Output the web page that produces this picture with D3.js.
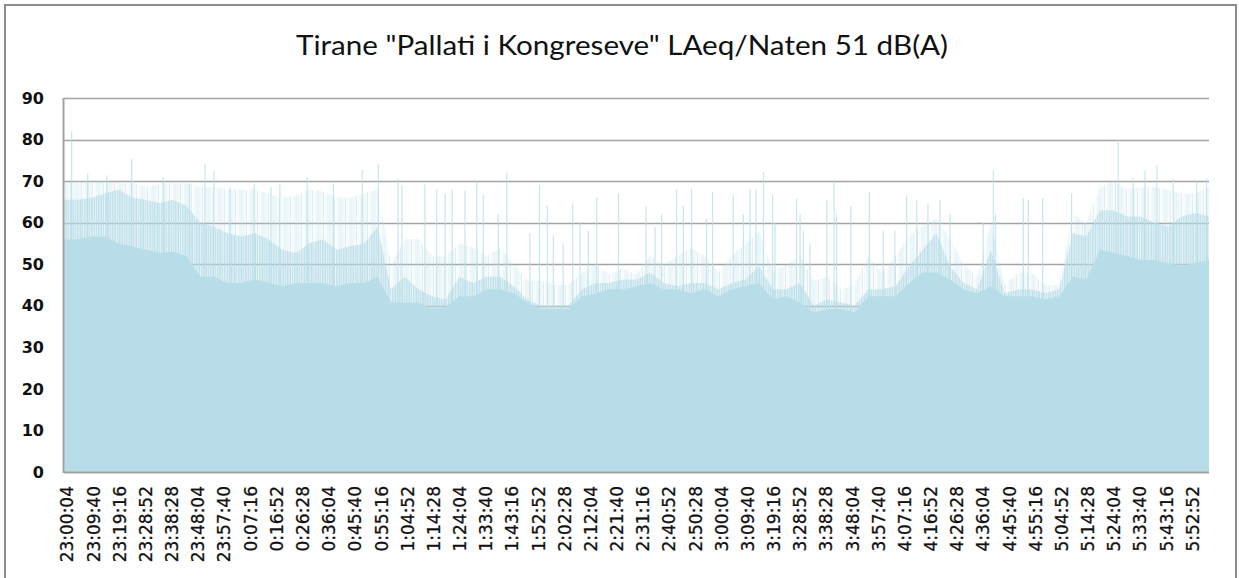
<!DOCTYPE html>
<html>
<head>
<meta charset="utf-8">
<script src="https://cdn.jsdelivr.net/npm/d3@7"></script>
<style>
  body { margin: 0; background: #fff; }
  svg { display: block; }
</style>
</head>
<body>
<div id="chart"></div>
<script>
// readings from the picture, one every 5 minutes starting 23:00:04
var stepSec = 300;
// solid level (nearly every second is above this)
var floorDb = [55.9, 56, 56.7, 56.7, 55, 54.3, 53.5, 52.7, 53, 52,
  47, 47, 45.5, 45.5, 46.3, 45.5, 44.7, 45.5, 45.5, 45.5,
  44.7, 45.5, 45.5, 47, 40.8, 40.8, 40.8, 39.2, 39.5, 42.3,
  42.3, 44, 44, 43, 40.8, 39.2, 39.2, 39.2, 42.3, 43,
  44, 44, 44.7, 45.5, 44, 44, 43, 44, 42.3, 44,
  44.7, 45.5, 41.5, 42.3, 40.8, 38.4, 39.2, 39.2, 38.4, 42.3,
  42.3, 42.3, 45.5, 48, 48, 46.3, 44, 43, 44.7, 42.3,
  42.3, 42.3, 41.5, 42.3, 47, 46.3, 53.5, 52.7, 52, 51,
  51, 50.3, 49.5, 50.3, 51];
// dense part of the fluctuations
var midDb = [65.5, 65.5, 66, 67, 68, 66, 65.5, 64.7, 65.5, 64,
  60, 59, 57.5, 56.7, 57.5, 56, 53.5, 52.7, 55, 56,
  53.5, 54.3, 55, 59, 44, 47, 44, 42.3, 41.5, 47,
  45.5, 47, 47, 44.7, 41.5, 40, 40, 40, 44, 45.5,
  45.5, 46.3, 46.3, 48, 45.5, 44.7, 45.5, 45.5, 44, 45.5,
  46.3, 49.5, 44, 44, 45.5, 40, 41.5, 40.8, 40, 44,
  44, 44.7, 49.5, 53.5, 57.5, 49.5, 45.5, 44, 53.5, 43,
  44, 44, 43, 44, 57.5, 56.7, 63, 63, 61.5, 61.5,
  60, 59, 61.5, 62.3, 61.5];
// upper edge of the frequent short peaks
var topDb = [69.5, 70, 70, 70, 69.5, 69.5, 68.5, 69.5, 69.5, 69.5,
  68.5, 68.5, 68, 68, 68, 67, 66, 66.5, 68, 67.5,
  66, 66, 67, 68, 50, 56, 56, 52, 52, 55,
  54, 52, 54, 50, 46, 46, 45, 45, 48, 50,
  47.5, 49, 47.5, 52, 50, 52, 54, 52, 48, 52,
  55, 58, 48, 50, 52, 46, 47, 44, 45, 52,
  48, 52, 57, 59, 61, 56, 50, 47, 60, 45,
  48, 48, 45, 45, 62, 60, 68.5, 70, 68, 68.5,
  68.5, 68, 67, 67, 68.5];
// isolated peaks: [minutes after 23:00:04, dB]
var spikes = [[2.8, 82], [8.7, 71.8], [15.7, 71.4], [24.8, 75.4], [36.4, 71],
  [46, 69.4], [51.7, 74.2], [55, 72.6], [60.9, 68.6], [69.8, 69.4],
  [75.9, 68.6], [79.2, 69.4], [89.2, 71], [98.8, 69.4], [109.4, 72.8],
  [115.3, 74.2], [122.5, 70.5], [124, 69], [132.4, 69.2], [136.7, 68],
  [139.8, 67], [142.4, 68], [147.1, 67.6], [151.4, 69.9], [153.8, 66.6],
  [159.3, 62], [162.4, 72], [170.9, 57.5], [174.4, 69], [177.3, 64],
  [179.5, 57], [183.1, 55], [186.6, 64.6], [189.3, 60], [192.3, 58],
  [195.4, 66], [203.4, 67], [213.5, 63.9], [216.8, 59], [219.2, 62],
  [224.7, 67.9], [227.2, 64], [230.2, 68.2], [235.7, 61], [237.9, 67.4],
  [245.5, 66.6], [249.2, 62], [251.6, 68], [253.8, 67.8], [256.6, 72.2],
  [259.9, 66.6], [260.8, 60], [268.7, 65.8], [270, 62], [271.2, 58],
  [273.6, 55], [279.8, 65.5], [282.5, 70.3], [283.4, 62], [288.6, 64.1],
  [295.4, 67.5], [300.5, 58], [304.8, 58], [309.1, 66.6], [312.8, 65.5],
  [316.9, 64.6], [321.3, 65.6], [325, 62], [337.2, 60], [340.9, 72.5],
  [341.7, 62], [351.9, 65.9], [353.7, 65.5], [359, 66], [369.6, 67],
  [374.5, 60], [386.7, 80], [392.2, 70.7], [396.5, 72.6], [400.9, 73.8],
  [406.9, 70.5], [415.5, 69.9], [419.1, 70.6]];

var yTicks = [0, 10, 20, 30, 40, 50, 60, 70, 80, 90];
var timeLabels = ['23:00:04', '23:09:40', '23:19:16', '23:28:52', '23:38:28', '23:48:04',
  '23:57:40', '0:07:16', '0:16:52', '0:26:28', '0:36:04', '0:45:40', '0:55:16',
  '1:04:52', '1:14:28', '1:24:04', '1:33:40', '1:43:16', '1:52:52', '2:02:28',
  '2:12:04', '2:21:40', '2:31:16', '2:40:52', '2:50:28', '3:00:04', '3:09:40',
  '3:19:16', '3:28:52', '3:38:28', '3:48:04', '3:57:40', '4:07:16', '4:16:52',
  '4:26:28', '4:36:04', '4:45:40', '4:55:16', '5:04:52', '5:14:28', '5:24:04',
  '5:33:40', '5:43:16', '5:52:52'];
var labelStepSec = 576;
var titleText = 'Tirane "Pallati i Kongreseve" LAeq/Naten 51 dB(A)';

var chartW = 1239, chartH = 578;
var plotLeft = 64, plotRight = 1209, plotTop = 98, plotBottom = 472;
var fillColor = '#b7dde8';
var gridColor = '#a3a3a3';

var svg = d3.select('#chart')
    .append('svg')
    .attr('width', chartW)
    .attr('height', chartH);

// chart border
svg.append('rect')
    .attr('x', 5).attr('y', 5)
    .attr('width', 1231).attr('height', 590)
    .attr('fill', '#fff')
    .attr('stroke', '#8c8c8c')
    .attr('stroke-width', 2);

var x = d3.scaleLinear().domain([0, 25200]).range([plotLeft, plotRight]);
var y = d3.scaleLinear().domain([0, 90]).range([plotBottom, plotTop]);

// stripe textures standing in for the one-second peaks
var defs = svg.append('defs');
function stripes(id, w, base, lines) {
    var p = defs.append('pattern')
        .attr('id', id)
        .attr('patternUnits', 'userSpaceOnUse')
        .attr('width', w).attr('height', 40);
    if (base > 0) {
        p.append('rect').attr('width', w).attr('height', 40)
            .attr('fill', fillColor).attr('opacity', base);
    }
    lines.forEach(function(s) {
        p.append('rect')
            .attr('x', s[0]).attr('y', 0)
            .attr('width', 1).attr('height', 40)
            .attr('fill', fillColor)
            .attr('opacity', s[1]);
    });
}
stripes('sparse', 11, 0, [[0.5, 0.5], [2.5, 0.3], [4, 0.45], [6.5, 0.25], [8.5, 0.5], [10, 0.3]]);
stripes('dense', 7, 0.3, [[0, 0.7], [1.5, 0.5], [3, 0.8], [5, 0.6]]);

// gridlines
svg.append('g')
    .selectAll('line')
    .data(yTicks.filter(function(d) { return d > 0; }))
    .enter()
    .append('line')
    .attr('x1', plotLeft).attr('x2', plotRight)
    .attr('y1', function(d) { return Math.round(y(d)) + 0.5; })
    .attr('y2', function(d) { return Math.round(y(d)) + 0.5; })
    .attr('stroke', gridColor)
    .attr('stroke-width', 1.3);

function levelArea(values) {
    return d3.area()
        .x(function(d, i) { return x(i * stepSec); })
        .y0(y(0))
        .y1(function(d) { return y(d); })(values);
}

svg.append('path')
    .attr('d', levelArea(topDb))
    .attr('fill', 'url(#sparse)');

svg.append('path')
    .attr('d', levelArea(midDb))
    .attr('fill', 'url(#dense)');

svg.append('g')
    .selectAll('line')
    .data(spikes)
    .enter()
    .append('line')
    .attr('x1', function(d) { return x(d[0] * 60); })
    .attr('x2', function(d) { return x(d[0] * 60); })
    .attr('y1', y(0))
    .attr('y2', function(d) { return y(d[1]); })
    .attr('stroke', fillColor)
    .attr('stroke-width', 1.2)
    .attr('opacity', 0.75);

svg.append('path')
    .attr('d', levelArea(floorDb))
    .attr('fill', fillColor);

// axis lines
svg.append('line')
    .attr('x1', plotLeft - 0.5).attr('x2', plotLeft - 0.5)
    .attr('y1', plotTop).attr('y2', plotBottom + 1)
    .attr('stroke', gridColor).attr('stroke-width', 2);
svg.append('line')
    .attr('x1', plotLeft).attr('x2', plotRight)
    .attr('y1', plotBottom + 0.5).attr('y2', plotBottom + 0.5)
    .attr('stroke', gridColor).attr('stroke-width', 2);

// y axis labels
var yAxis = svg.append('g')
    .attr('transform', 'translate(' + plotLeft + ',0)')
    .call(d3.axisLeft(y).tickValues(yTicks).tickSize(0).tickPadding(20));
yAxis.select('.domain').remove();
yAxis.selectAll('text')
    .attr('font-family', 'DejaVu Sans')
    .attr('font-weight', 'bold')
    .attr('font-size', 16)
    .attr('fill', '#111');

// x axis labels
var xAxis = svg.append('g')
    .attr('transform', 'translate(3,' + plotBottom + ')')
    .call(d3.axisBottom(x)
        .tickValues(timeLabels.map(function(d, i) { return i * labelStepSec; }))
        .tickFormat(function(d, i) { return timeLabels[i]; })
        .tickSize(0));
xAxis.select('.domain').remove();
xAxis.selectAll('text')
    .attr('font-family', 'DejaVu Sans')
    .attr('font-size', 17)
    .attr('fill', '#111')
    .attr('stroke', '#111')
    .attr('stroke-width', 0.3)
    .attr('text-anchor', 'end')
    .attr('transform', 'rotate(-90)')
    .attr('x', -14)
    .attr('y', 0)
    .attr('dy', '0.35em');

// title
svg.append('text')
    .attr('x', 622)
    .attr('y', 55)
    .attr('text-anchor', 'middle')
    .attr('font-family', 'Lato')
    .attr('font-size', 27)
    .attr('textLength', 652)
    .attr('lengthAdjust', 'spacingAndGlyphs')
    .attr('fill', '#111')
    .text(titleText);
</script>
</body>
</html>
